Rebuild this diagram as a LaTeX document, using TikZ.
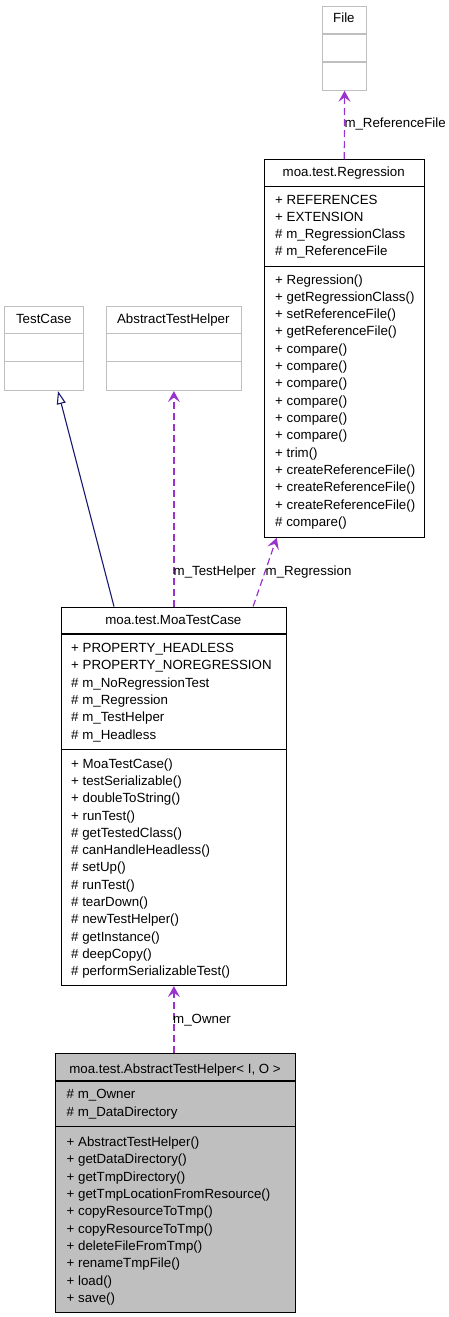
\documentclass[tikz,border=0pt]{standalone}
\usepackage{fontspec}
\setmainfont{Liberation Sans}
\usetikzlibrary{arrows.meta}
\definecolor{depc}{HTML}{9A32CD}
\definecolor{inhc}{HTML}{191970}
\definecolor{extc}{HTML}{BFBFBF}
\begin{document}
\begin{tikzpicture}[x=1pt,y=-1pt,
  font=\fontsize{13.3}{16}\selectfont,
  cls/.style={draw=black, line width=1.1pt, inner sep=0pt, anchor=north west},
  extcls/.style={cls, draw=extc},
  divline/.style={draw=black, line width=1.1pt},
  extdiv/.style={draw=extc, line width=1.1pt},
  row/.style={anchor=base west, inner sep=0pt},
  ttl/.style={anchor=base, inner sep=0pt},
  dep/.style={draw=depc, dash pattern=on 7pt off 4pt, line width=1.2pt,
    -{Stealth[length=11pt,width=12pt,inset=4.5pt]}},
  inh/.style={draw=inhc, line width=1.1pt, -{Triangle[open,length=13pt,width=9pt]}}]
\useasboundingbox (0,0) rectangle (449,1317);

% ---------- File ----------
\node[extcls, minimum width=43.4pt, minimum height=83.7pt] (file) at (322.3,6) {};
\draw[extdiv] (file.west |- 0,34) -- (file.east |- 0,34);
\draw[extdiv] (file.west |- 0,62) -- (file.east |- 0,62);
\node[ttl] (file-t) at (343.9,23) {File};

% ---------- Regression ----------
\node[cls, minimum width=160.5pt, minimum height=377.7pt] (reg) at (263.5,159) {};
\draw[divline] (reg.west |- 0,186.7) -- (reg.east |- 0,186.7);
\draw[divline] (reg.west |- 0,266.7) -- (reg.east |- 0,266.7);
\node[ttl] (reg-t) at (343.7,176.4) {moa.test.Regression};
\foreach [count=\i from 0] \t in {+ REFERENCES,+ EXTENSION,\# m\_RegressionClass,\# m\_ReferenceFile}
  \node[row] (reg-a\i) at (275,{204+\i*17.33}) {\t};
\foreach [count=\i from 0] \t in {+ Regression(),+ getRegressionClass(),+ setReferenceFile(),+ getReferenceFile(),+ compare(),+ compare(),+ compare(),+ compare(),+ compare(),+ compare(),+ trim(),+ createReferenceFile(),+ createReferenceFile(),+ createReferenceFile(),\# compare()}
  \node[row] (reg-m\i) at (275,{284+\i*17.33}) {\t};

% ---------- TestCase ----------
\node[extcls, minimum width=79pt, minimum height=84.3pt] (tc) at (4.3,305.7) {};
\draw[extdiv] (tc.west |- 0,333.7) -- (tc.east |- 0,333.7);
\draw[extdiv] (tc.west |- 0,361.7) -- (tc.east |- 0,361.7);
\node[ttl] (tc-t) at (43.8,323) {TestCase};

% ---------- AbstractTestHelper (external) ----------
\node[extcls, minimum width=134.7pt, minimum height=84.3pt] (ath) at (106,305.7) {};
\draw[extdiv] (ath.west |- 0,333.7) -- (ath.east |- 0,333.7);
\draw[extdiv] (ath.west |- 0,361.7) -- (ath.east |- 0,361.7);
\node[ttl] (ath-t) at (173.3,323) {AbstractTestHelper};

% ---------- MoaTestCase ----------
\node[cls, minimum width=225.3pt, minimum height=378.5pt] (moa) at (60.7,606.5) {};
\draw[divline] (moa.west |- 0,634) -- (moa.east |- 0,634);
\draw[divline] (moa.west |- 0,749.3) -- (moa.east |- 0,749.3);
\node[ttl] (moa-t) at (173.3,624.7) {moa.test.MoaTestCase};
\foreach [count=\i from 0] \t in {+ PROPERTY\_HEADLESS,+ PROPERTY\_NOREGRESSION,\# m\_NoRegressionTest,\# m\_Regression,\# m\_TestHelper,\# m\_Headless}
  \node[row] (moa-a\i) at (71,{652.4+\i*17.33}) {\t};
\foreach [count=\i from 0] \t in {+ MoaTestCase(),+ testSerializable(),+ doubleToString(),+ runTest(),\# getTestedClass(),\# canHandleHeadless(),\# setUp(),\# runTest(),\# tearDown(),\# newTestHelper(),\# getInstance(),\# deepCopy(),\# performSerializableTest()}
  \node[row] (moa-m\i) at (71,{768+\i*17.33}) {\t};

% ---------- moa.test.AbstractTestHelper<I,O> ----------
\node[cls, fill=extc, minimum width=240pt, minimum height=259pt] (athio) at (55,1052.7) {};
\draw[divline] (athio.west |- 0,1081) -- (athio.east |- 0,1081);
\draw[divline] (athio.west |- 0,1126.7) -- (athio.east |- 0,1126.7);
\node[ttl] (athio-t) at (175,1073) {moa.test.AbstractTestHelper< I, O >};
\foreach [count=\i from 0] \t in {\# m\_Owner,\# m\_DataDirectory}
  \node[row] (athio-a\i) at (66.5,{1098.9+\i*17.33}) {\t};
\foreach [count=\i from 0] \t in {+ AbstractTestHelper(),+ getDataDirectory(),+ getTmpDirectory(),+ getTmpLocationFromResource(),+ copyResourceToTmp(),+ copyResourceToTmp(),+ deleteFileFromTmp(),+ renameTmpFile(),+ load(),+ save()}
  \node[row] (athio-m\i) at (66.5,{1146.4+\i*17.33}) {\t};

% ---------- connectors ----------
\draw[dep] (reg.north) -- (file.south);
\node[row] (l-ref) at (344.3,127.4) {m\_ReferenceFile};

\draw[inh] ([xshift=53.3pt]moa.north west) -- ([xshift=53.7pt]tc.south west);

\draw[dep] (moa.north) -- (ath.south);
\node[row] (l-th) at (173.5,575.4) {m\_TestHelper};

\draw[dep] ([xshift=-34pt]moa.north east) -- ([xshift=13.2pt]reg.south west);
\node[row] (l-reg) at (265.5,575.4) {m\_Regression};

\draw[dep] (athio.north -| moa.south) -- (moa.south);
\node[row] (l-own) at (173,1023) {m\_Owner};
\end{tikzpicture}
\end{document}
